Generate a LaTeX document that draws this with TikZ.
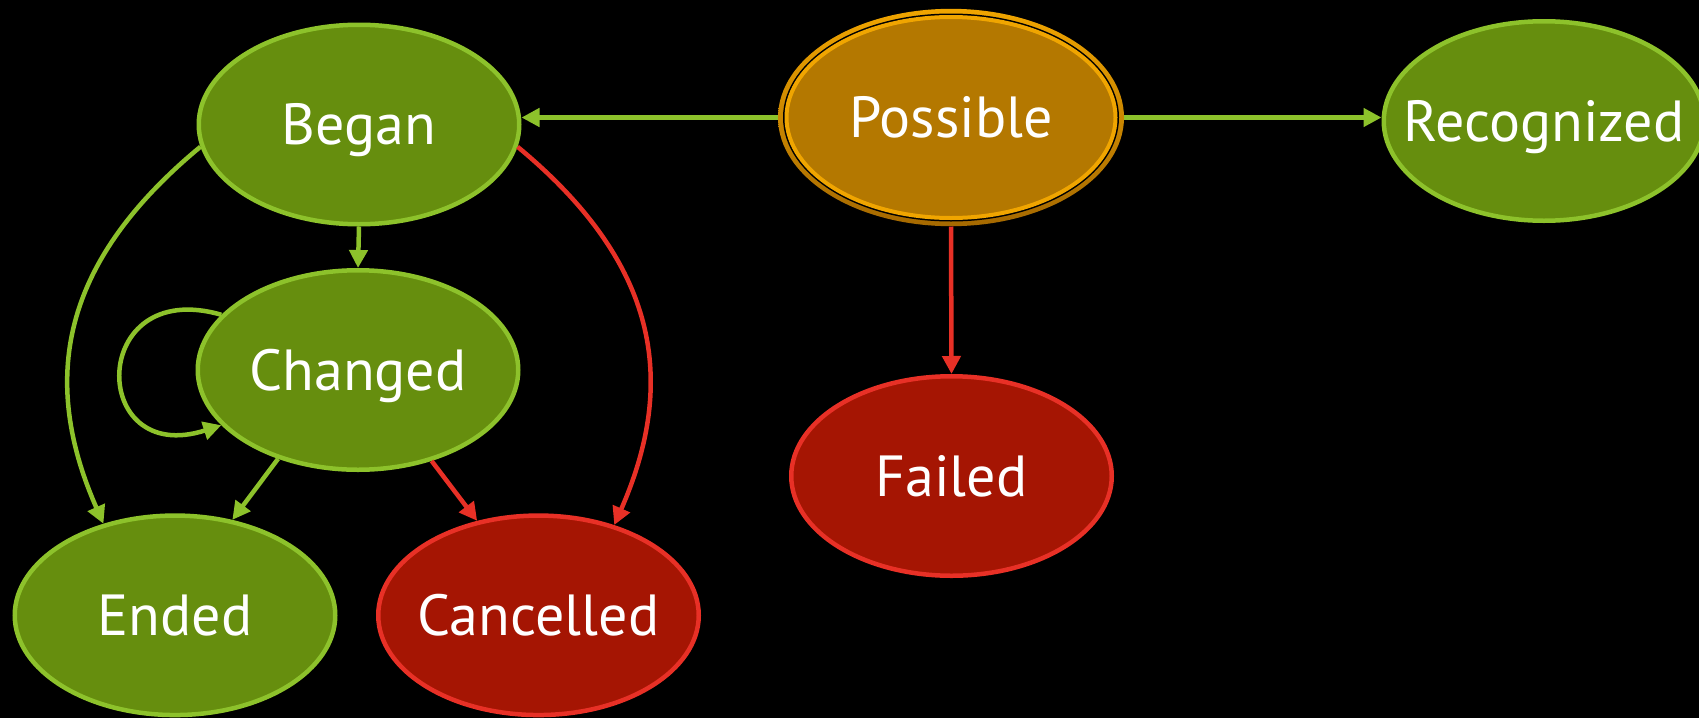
\documentclass[tikz,border=0pt]{standalone}
\usepackage{fontspec}
\setmainfont{PT Sans}
\usetikzlibrary{shapes.geometric,arrows.meta}
\definecolor{gfill}{RGB}{102,142,14}
\definecolor{gline}{RGB}{141,194,43}
\definecolor{rfill}{RGB}{165,21,3}
\definecolor{rline}{RGB}{232,48,38}
\definecolor{pfill}{RGB}{180,120,0}
\definecolor{pline}{RGB}{240,165,0}
\definecolor{pshadow}{RGB}{165,105,0}
\newcommand\lbl[1]{\makebox[0pt]{#1}}
\begin{document}
\begin{tikzpicture}[x=1pt,y=-1pt,
  state/.style={ellipse, minimum width=320.5pt, minimum height=199.5pt, inner sep=0pt,
    line width=4.5pt, text=white, font=\fontsize{58}{60}\selectfont,
    text height=40pt, text depth=0pt},
  gstate/.style={state, draw=gline, fill=gfill},
  rstate/.style={state, draw=rline, fill=rfill},
  pstate/.style={state, draw=pline, fill=pfill, line width=4pt,
    preaction={draw=black, line width=7pt},
    minimum width=329pt, minimum height=201pt, outer sep=8.5pt},
  tip/.style={-{Triangle[length=18pt,width=18pt]}},
  garrow/.style={draw=gline, line width=4.5pt, tip},
  rarrow/.style={draw=rline, line width=4.5pt, tip}]
\clip (0,0) rectangle (1699,718);
\fill[black] (0,0) rectangle (1699,718);
\shade[top color=pline, middle color=pline, bottom color=pshadow]
  (951,117.5) ellipse [x radius=173, y radius=108.7];
\node[gstate] (Began) at (359,124.5) {\lbl{Began}};
\node[gstate] (Changed) at (358,370) {\lbl{Changed}};
\node[gstate] (Ended) at (175,615.3) {\lbl{Ended}};
\node[rstate] (Cancelled) at (538.5,615.3) {\lbl{Cancelled}};
\node[pstate] (Possible) at (951,117.5) {\lbl{Possible}};
\node[gstate] (Recognized) at (1544,121) {\lbl{Recognized}};
\node[rstate] (Failed) at (951.5,476) {\lbl{Failed}};

\draw[garrow] (Possible.west) -- (Possible.west -| Began.east);
\draw[garrow] (Possible.east) -- (Possible.east -| Recognized.west);
\draw[rarrow] (Possible.south) -- (Failed.north);
\draw[garrow] (Began.south) -- (Changed.north);
\draw[garrow] (Began.188) .. controls (60,263) and (40,380) .. (Ended.128);
\draw[rarrow] (Began.-8) .. controls (658,263) and (678,380) .. (Cancelled.50);
\draw[garrow] (Changed.158.6) .. controls (88,276) and (88,468) .. (Changed.202.8);
\draw[garrow] (Changed.228) -- (Ended.59);
\draw[rarrow] (Changed.-51) -- (Cancelled.123);
\end{tikzpicture}
\end{document}
